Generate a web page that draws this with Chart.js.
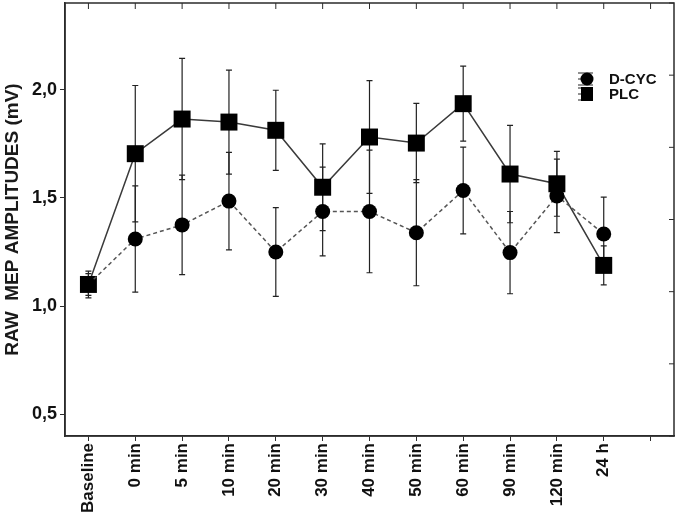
<!DOCTYPE html>
<html>
<head>
<meta charset="utf-8">
<script src="https://cdn.jsdelivr.net/npm/chart.js@4.4.1/dist/chart.umd.min.js"></script>
<style>
html,body{margin:0;padding:0;background:#fff}
#wrap{width:680px;height:522px}
</style>
</head>
<body>
<div id="wrap"><canvas id="c" width="680" height="522"></canvas></div>
<script>
/* data */
const CATS=['Baseline','0 min','5 min','10 min','20 min','30 min','40 min','50 min','60 min','90 min','120 min','24 h',''];
const DCYC=[1.10,1.31,1.375,1.485,1.25,1.437,1.437,1.339,1.534,1.247,1.509,1.333,null];
const DCYC_ERR=[0.05,0.245,0.23,0.225,0.205,0.205,0.283,0.245,0.20,0.19,0.17,0.17,null];
const PLC=[1.10,1.704,1.864,1.85,1.812,1.549,1.781,1.753,1.935,1.61,1.565,1.188,null];
const PLC_ERR=[0.062,0.315,0.28,0.24,0.185,0.2,0.26,0.183,0.173,0.225,0.15,0.09,null];
const Y_TICKS=[0.5,1.0,1.5,2.0];
const Y_MIN=0.4,Y_MAX=2.4;
const RIGHT_TICKS=[0,1,2,3,4,5,6];

const FONT='"Liberation Sans", Arial, sans-serif';
const INK='#2b2b2b';

/* error bars under the markers */
const errorBars={
  id:'errorBars',
  beforeDatasetsDraw(chart){
    const{ctx,scales:{x,y}}=chart;
    ctx.save();
    ctx.strokeStyle='#222';ctx.lineWidth=1.2;
    [[DCYC,DCYC_ERR],[PLC,PLC_ERR]].forEach(([vals,errs])=>{
      vals.forEach((v,i)=>{
        if(v==null)return;
        const px=x.getPixelForValue(i);
        const t=y.getPixelForValue(v+errs[i]);
        const b=y.getPixelForValue(v-errs[i]);
        ctx.beginPath();
        ctx.moveTo(px,t);ctx.lineTo(px,b);
        ctx.moveTo(px-3,t);ctx.lineTo(px+3,t);
        ctx.moveTo(px-3,b);ctx.lineTo(px+3,b);
        ctx.stroke();
      });
    });
    ctx.restore();
  }
};

/* frame, inner ticks on top/right, legend */
const frame={
  id:'frame',
  afterDraw(chart){
    const{ctx,chartArea:a,scales:{x,y2}}=chart;
    ctx.save();
    ctx.strokeStyle=INK;ctx.lineWidth=1.5;
    ctx.strokeRect(a.left,a.top,a.right-a.left,a.bottom-a.top);
    ctx.lineWidth=1;
    ctx.beginPath();
    CATS.forEach((c,i)=>{
      const px=x.getPixelForValue(i);
      ctx.moveTo(px,a.top);ctx.lineTo(px,a.top+6);
    });
    RIGHT_TICKS.forEach(v=>{
      const py=y2.getPixelForValue(v);
      ctx.moveTo(a.right,py);ctx.lineTo(a.right-5,py);
    });
    ctx.stroke();

    // legend
    const lx=a.right-87,ly=a.top+76;
    const items=[{t:'D-CYC',s:'circle'},{t:'PLC',s:'rect'}];
    items.forEach((it,k)=>{
      const cy=ly+k*15;
      ctx.strokeStyle='#222';ctx.lineWidth=1;
      ctx.beginPath();
      [-6,0,6].forEach(d=>{ctx.moveTo(lx-9,cy+d);ctx.lineTo(lx+6,cy+d);});
      ctx.stroke();
      ctx.fillStyle='#000';
      ctx.beginPath();
      if(it.s==='circle')ctx.arc(lx,cy,6.5,0,Math.PI*2);
      else ctx.rect(lx-6,cy-7,12,14);
      ctx.fill();
      ctx.fillStyle='#111';
      ctx.font='bold 15px '+FONT;
      ctx.textAlign='left';ctx.textBaseline='middle';
      ctx.fillText(it.t,lx+22,cy+1);
    });
    ctx.restore();
  }
};

new Chart(document.getElementById('c'),{
  type:'line',
  data:{
    labels:CATS,
    datasets:[
      {label:'D-CYC',data:DCYC,borderColor:'#555',borderWidth:1.5,borderDash:[4,3],
       pointStyle:'circle',pointRadius:7.5,pointBackgroundColor:'#000',pointBorderColor:'#000',pointBorderWidth:0,
       fill:false,tension:0,spanGaps:false},
      {label:'PLC',data:PLC,borderColor:'#3a3a3a',borderWidth:1.5,
       pointStyle:'rect',pointRadius:12,pointBackgroundColor:'#000',pointBorderColor:'#000',pointBorderWidth:0,
       fill:false,tension:0,spanGaps:false}
    ]
  },
  plugins:[errorBars,frame],
  options:{
    responsive:false,animation:false,
    layout:{autoPadding:false,padding:{top:3,right:6,left:0,bottom:0}},
    plugins:{legend:{display:false},tooltip:{enabled:false}},
    scales:{
      x:{
        type:'category',offset:true,
        grid:{drawOnChartArea:false,drawTicks:true,tickLength:5,color:INK,offset:false},
        border:{color:INK,width:1.5},
        ticks:{autoSkip:false,minRotation:90,maxRotation:90,padding:2,color:'#111',
          font:{family:FONT,size:17,weight:'bold'}},
        afterFit(s){s.height=86;s.paddingLeft=0;s.paddingRight=0;}
      },
      y:{
        min:Y_MIN,max:Y_MAX,
        afterBuildTicks(s){s.ticks=Y_TICKS.map(v=>({value:v}));},
        grid:{drawOnChartArea:false,drawTicks:true,tickLength:5,color:INK},
        border:{color:INK,width:1.5},
        ticks:{padding:3,color:'#111',font:{family:FONT,size:18,weight:'bold'},
          callback:v=>v.toFixed(1).replace('.',',')},
        title:{display:true,text:'RAW  MEP AMPLITUDES (mV)',color:'#1a1a1a',
          font:{family:FONT,size:19,weight:'bold'},padding:{top:1,bottom:0}},
        afterFit(s){s.width=65;s.paddingTop=0;s.paddingBottom=0;}
      },
      y2:{display:false,min:0,max:6,position:'right'}
    }
  }
});
</script>
</body>
</html>
